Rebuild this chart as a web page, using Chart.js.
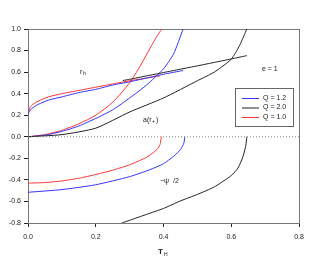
<!DOCTYPE html>
<html>
<head>
<meta charset="utf-8">
<script src="https://cdn.jsdelivr.net/npm/chart.js@4/dist/chart.umd.min.js"></script>
<style>
  html, body { margin: 0; padding: 0; background: #fff; }
  #wrap { width: 315px; height: 261px; }
</style>
</head>
<body>
<div id="wrap"><canvas id="myChart"></canvas></div>
<script>
// r_h curves
var rhRedT = [0, 0.003, 0.01, 0.03, 0.06, 0.1, 0.15, 0.2, 0.25, 0.3, 0.35, 0.39];
var rhRedV = [0.2, 0.25, 0.29, 0.33, 0.37, 0.4, 0.43, 0.46, 0.49, 0.52, 0.545, 0.565];
var rhBlueT = [0, 0.003, 0.01, 0.03, 0.06, 0.1, 0.15, 0.2, 0.25, 0.3, 0.35, 0.4, 0.458];
var rhBlueV = [0.2, 0.23, 0.26, 0.3, 0.34, 0.37, 0.41, 0.44, 0.48, 0.51, 0.545, 0.58, 0.615];
var rhBlackT = [0.28, 0.3, 0.35, 0.4, 0.45, 0.5, 0.55, 0.6, 0.646];
var rhBlackV = [0.522, 0.533, 0.565, 0.596, 0.627, 0.658, 0.69, 0.722, 0.753];

// a(r_+) curves
var aRedT = [0, 0.05, 0.1, 0.15, 0.2, 0.25, 0.3, 0.33, 0.36, 0.38, 0.395];
var aRedV = [0, 0.02, 0.06, 0.12, 0.2, 0.32, 0.5, 0.65, 0.82, 0.93, 1.0];
var aBlueT = [0, 0.05, 0.1, 0.15, 0.2, 0.25, 0.3, 0.35, 0.4, 0.43, 0.458];
var aBlueV = [0, 0.015, 0.05, 0.1, 0.17, 0.25, 0.36, 0.48, 0.63, 0.77, 1.0];
var aBlackT = [0, 0.1, 0.2, 0.3, 0.4, 0.5, 0.55, 0.6, 0.625, 0.646];
var aBlackV = [0, 0.02, 0.08, 0.23, 0.36, 0.52, 0.6, 0.72, 0.85, 1.0];

// -psi/2 curves
var psiRedT = [0, 0.05, 0.1, 0.15, 0.2, 0.25, 0.3, 0.35, 0.38, 0.39, 0.392, 0.395];
var psiRedV = [-0.43, -0.425, -0.41, -0.385, -0.35, -0.31, -0.26, -0.19, -0.12, -0.07, -0.03, 0];
var psiBlueT = [0, 0.1, 0.2, 0.3, 0.36, 0.4, 0.43, 0.45, 0.46, 0.463];
var psiBlueV = [-0.515, -0.49, -0.445, -0.37, -0.305, -0.25, -0.18, -0.12, -0.06, 0];
var psiBlackT = [0.277, 0.3, 0.35, 0.4, 0.45, 0.5, 0.55, 0.6, 0.62, 0.635, 0.643, 0.646];
var psiBlackV = [-0.8, -0.775, -0.72, -0.665, -0.595, -0.535, -0.465, -0.36, -0.29, -0.18, -0.08, 0];

var legendLabels = ['Q = 1.2', 'Q = 2.0', 'Q = 1.0'];
var legendColors = ['#3333ff', '#222222', '#ff3333'];

function pts(xs, ys) {
  return xs.map(function (x, i) { return { x: x, y: ys[i] }; });
}

function line(xs, ys, color) {
  return {
    data: pts(xs, ys),
    borderColor: color,
    borderWidth: 1,
    pointRadius: 0,
    showLine: true,
    fill: false,
    tension: 0.2
  };
}

var zeroLine = line([0, 0.8], [0, 0], '#888888');
zeroLine.borderDash = [1, 2];
zeroLine.tension = 0;

var overlay = {
  id: 'overlay',
  beforeDatasetsDraw: function (chart) {
    var c = chart.ctx, a = chart.chartArea;
    c.save();
    c.strokeStyle = '#777';
    c.lineWidth = 1;
    c.strokeRect(a.left + 0.5, a.top + 0.5, a.right - a.left, a.bottom - a.top);
    c.restore();
  },
  afterDraw: function (chart) {
    var c = chart.ctx;
    c.save();
    c.fillStyle = '#222';
    c.textBaseline = 'middle';
    c.font = '7px "Liberation Sans", Arial, sans-serif';
    c.fillText('r', 80, 72);
    c.font = '5px "Liberation Sans", Arial, sans-serif';
    c.fillText('h', 83, 74);
    c.font = '7px "Liberation Sans", Arial, sans-serif';
    c.fillText('a(r', 143, 120);
    c.font = '5px "Liberation Sans", Arial, sans-serif';
    c.fillText('+', 152, 122);
    c.font = '7px "Liberation Sans", Arial, sans-serif';
    c.fillText(')', 156, 120);
    c.fillText('e = 1', 262, 69);
    c.fillText('\u2212\u03c8  /2', 160, 181);
    // axis title
    c.font = 'bold 8px "Liberation Sans", Arial, sans-serif';
    c.fillText('T', 158, 252);
    c.font = '5px "Liberation Sans", Arial, sans-serif';
    c.fillText('H', 164, 255);
    // legend
    var lx = 235, ly = 88, lw = 58, lh = 38;
    c.fillStyle = '#fff';
    c.fillRect(lx, ly, lw, lh);
    c.strokeStyle = '#666';
    c.lineWidth = 1;
    c.strokeRect(lx + 0.5, ly + 0.5, lw, lh);
    c.font = '7px "Liberation Sans", Arial, sans-serif';
    for (var i = 0; i < legendLabels.length; i++) {
      var yy = ly + 10 + i * 9.5;
      c.strokeStyle = legendColors[i];
      c.beginPath();
      c.moveTo(lx + 7, yy + 0.5);
      c.lineTo(lx + 24, yy + 0.5);
      c.stroke();
      c.fillStyle = '#222';
      c.fillText(legendLabels[i], lx + 28, yy);
    }
    c.restore();
  }
};

var ctx = document.getElementById('myChart').getContext('2d');
var myChart = new Chart(ctx, {
  type: 'scatter',
  data: {
    datasets: [
      zeroLine,
      line(rhBlackT, rhBlackV, '#222222'),
      line(rhBlueT, rhBlueV, '#3333ff'),
      line(rhRedT, rhRedV, '#ff3333'),
      line(aBlackT, aBlackV, '#222222'),
      line(aBlueT, aBlueV, '#3333ff'),
      line(aRedT, aRedV, '#ff3333'),
      line(psiBlackT, psiBlackV, '#222222'),
      line(psiBlueT, psiBlueV, '#3333ff'),
      line(psiRedT, psiRedV, '#ff3333')
    ]
  },
  options: {
    responsive: true,
    maintainAspectRatio: false,
    animation: false,
    layout: { padding: { left: 0, top: 29, right: 16, bottom: 0 } },
    plugins: {
      legend: { display: false },
      tooltip: { enabled: false }
    },
    scales: {
      x: {
        type: 'linear',
        min: 0, max: 0.8,
        afterFit: function (s) { s.height = 38; },
        border: { display: true, color: '#222', width: 1 },
        grid: { display: true, drawOnChartArea: false, drawTicks: true, tickLength: 4, color: '#222' },
        ticks: {
          stepSize: 0.2,
          padding: 6,
          color: '#222',
          font: { size: 7, family: '"Liberation Sans", Arial, sans-serif' },
          maxRotation: 0,
          callback: function (v) { return v.toFixed(1); }
        }
      },
      y: {
        type: 'linear',
        min: -0.8, max: 1.0,
        afterFit: function (s) { s.width = 28; },
        border: { display: true, color: '#222', width: 1 },
        grid: { display: true, drawOnChartArea: false, drawTicks: true, tickLength: 4, color: '#222' },
        ticks: {
          stepSize: 0.2,
          padding: 3,
          color: '#222',
          font: { size: 7, family: '"Liberation Sans", Arial, sans-serif' },
          callback: function (v) { return v.toFixed(1); }
        }
      }
    }
  },
  plugins: [overlay]
});
</script>
</body>
</html>
